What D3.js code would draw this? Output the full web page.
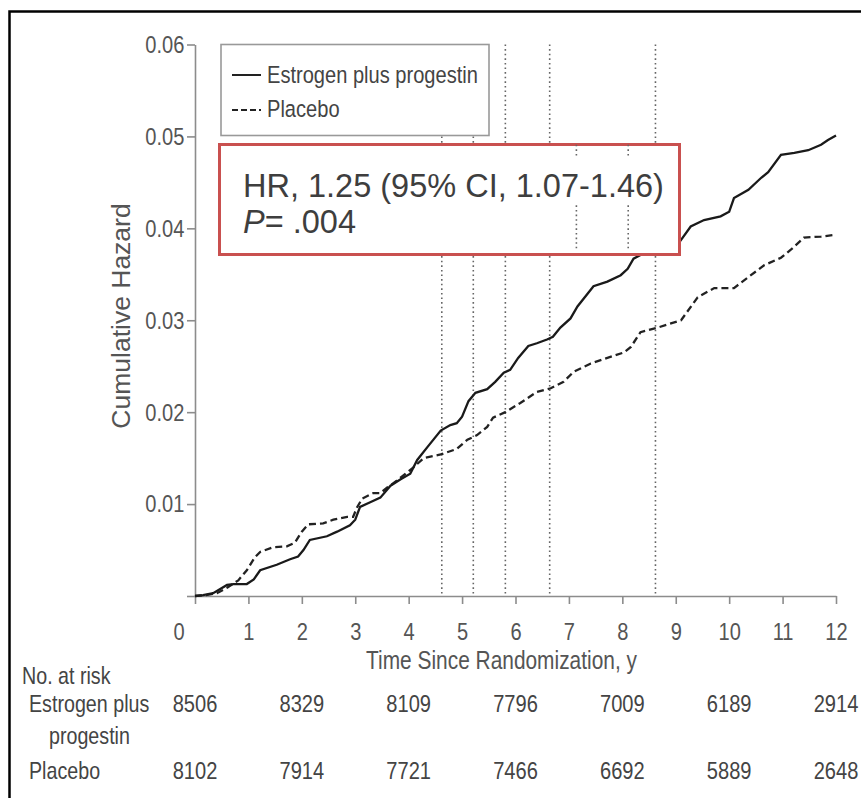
<!DOCTYPE html>
<html>
<head>
<meta charset="utf-8">
<script src="https://cdn.jsdelivr.net/npm/d3@7"></script>
<style>
  body { margin: 0; background: #fff; }
  svg text { font-family: "Liberation Sans", Arial, sans-serif; }
</style>
</head>
<body>
<div id="chart"></div>
<script>
// Cumulative hazard (time in years)
var epTime = [0, 0.15, 0.34, 0.6, 0.72, 0.97, 1.1, 1.22, 1.53, 1.78, 1.93, 2.03, 2.15, 2.47, 2.66, 2.9, 3.0, 3.09,
    3.28, 3.47, 3.66, 3.85, 4.03, 4.16, 4.35, 4.6, 4.78, 4.9, 5.0, 5.12, 5.25, 5.47, 5.62, 5.78, 5.9, 6.05, 6.24,
    6.4, 6.59, 6.7, 6.84, 7.03, 7.16, 7.46, 7.72, 7.97, 8.1, 8.21, 8.34, 8.6, 8.85, 9.07, 9.28, 9.53, 9.84, 10.0,
    10.09, 10.36, 10.6, 10.73, 10.97, 11.22, 11.48, 11.72, 11.85, 12.0];
var epHazard = [0, 0.0001, 0.0003, 0.0012, 0.0013, 0.0013, 0.0018, 0.0028, 0.0034, 0.004, 0.0043, 0.005, 0.0061,
    0.0065, 0.007, 0.0077, 0.0083, 0.0097, 0.0102, 0.0107, 0.012, 0.0127, 0.0133, 0.0148, 0.0162, 0.018, 0.0186,
    0.0188, 0.0195, 0.0212, 0.0221, 0.0225, 0.0233, 0.0243, 0.0246, 0.0259, 0.0272, 0.0275, 0.0279, 0.0282, 0.0292,
    0.0302, 0.0315, 0.0337, 0.0342, 0.0349, 0.0356, 0.0367, 0.0371, 0.0377, 0.0381, 0.0385, 0.0402, 0.0409, 0.0413,
    0.0418, 0.0433, 0.0442, 0.0455, 0.0461, 0.048, 0.0482, 0.0485, 0.0491, 0.0496, 0.0501];
var plTime = [0, 0.2, 0.41, 0.6, 0.81, 0.97, 1.12, 1.22, 1.46, 1.72, 1.87, 2.0, 2.12, 2.4, 2.59, 2.85, 2.96, 3.03,
    3.13, 3.34, 3.47, 3.6, 3.79, 4.09, 4.28, 4.6, 4.9, 5.1, 5.28, 5.47, 5.58, 5.81, 6.09, 6.4, 6.66, 6.9, 7.09,
    7.41, 7.72, 8.03, 8.16, 8.34, 8.66, 9.1, 9.41, 9.72, 10.09, 10.36, 10.66, 10.97, 11.16, 11.4, 11.72, 12.0];
var plHazard = [0, 0.0001, 0.0003, 0.0009, 0.0017, 0.0028, 0.0042, 0.0048, 0.0053, 0.0054, 0.0058, 0.007, 0.0078,
    0.0079, 0.0083, 0.0086, 0.0086, 0.0096, 0.0106, 0.0112, 0.0112, 0.0118, 0.0126, 0.014, 0.015, 0.0154, 0.016,
    0.017, 0.0175, 0.0184, 0.0194, 0.02, 0.021, 0.0222, 0.0226, 0.0233, 0.0244, 0.0253, 0.0259, 0.0265, 0.0271,
    0.0287, 0.0292, 0.03, 0.0325, 0.0335, 0.0335, 0.0347, 0.036, 0.0368, 0.0377, 0.039, 0.0391, 0.0393];

var xTicks = [0, 1, 2, 3, 4, 5, 6, 7, 8, 9, 10, 11, 12];
var yTicks = [0, 0.01, 0.02, 0.03, 0.04, 0.05, 0.06];

// numbers at risk
var riskYears = [0, 2, 4, 6, 8, 10, 12];
var riskEP = [8506, 8329, 8109, 7796, 7009, 6189, 2914];
var riskPL = [8102, 7914, 7721, 7466, 6692, 5889, 2648];

// dotted reference lines (years)
var markerYears = [4.62, 5.21, 5.81, 6.64, 8.62];
var boxMarkerYears = [7.14, 8.11];

var width = 861, height = 798;
var narrow = 0.82; // squeeze to mimic the condensed face

var x = d3.scaleLinear().domain([0, 12]).range([195, 836]);
var y = d3.scaleLinear().domain([0, 0.06]).range([596, 44.5]);

var svg = d3.select("#chart").append("svg")
    .attr("width", width)
    .attr("height", height)
    .style("display", "block");

svg.append("rect").attr("width", width).attr("height", height).attr("fill", "#fff");

// frame of the figure (only top and left edges are visible)
svg.append("rect")
    .attr("x", 9.5).attr("y", 11.5)
    .attr("width", 950).attr("height", 900)
    .attr("fill", "none")
    .attr("stroke", "#000")
    .attr("stroke-width", 2.5);

function condText(g, px, py, str, size, anchor, k) {
    return g.append("text")
        .attr("transform", "translate(" + px + "," + py + ") scale(" + (k || narrow) + ",1)")
        .attr("text-anchor", anchor || "start")
        .style("font-size", size + "px")
        .text(str);
}

// dotted vertical lines
svg.append("g").selectAll("line")
    .data(markerYears).enter()
    .append("line")
    .attr("x1", function (d) { return x(d); })
    .attr("x2", function (d) { return x(d); })
    .attr("y1", y(0.06))
    .attr("y2", y(0))
    .attr("stroke", "#666")
    .attr("stroke-width", 1.6)
    .attr("stroke-dasharray", "1.6,3");

// axes
var yAxis = svg.append("g")
    .attr("transform", "translate(" + x(0) + ",0)")
    .call(d3.axisLeft(y).tickValues(yTicks).tickSize(8).tickSizeOuter(0).tickPadding(5)
        .tickFormat(function (d) { return d === 0 ? "" : d3.format(".2f")(d); }));

var xAxis = svg.append("g")
    .attr("transform", "translate(0," + y(0) + ")")
    .call(d3.axisBottom(x).tickValues(xTicks).tickSize(8).tickSizeOuter(0).tickPadding(19)
        .tickFormat(d3.format("d")));

[yAxis, xAxis].forEach(function (ax) {
    ax.select(".domain").attr("stroke", "#8c8c8c").attr("stroke-width", 1.6);
    ax.selectAll(".tick line").attr("stroke", "#8c8c8c").attr("stroke-width", 1.6);
    ax.selectAll(".tick text")
        .attr("fill", "#555")
        .style("font-size", "24.5px")
        .style("font-family", "'Liberation Sans', Arial, sans-serif");
});
yAxis.selectAll(".tick text").attr("transform", "scale(" + narrow + ",1)");
xAxis.selectAll(".tick text")
    .attr("transform", "scale(" + narrow + ",1)")
    .attr("x", function (d) { return d === 0 ? -20 : 0; });

// axis titles
condText(svg, (x(0) + x(12)) / 2 - 14, 669, "Time Since Randomization, y", 25.5, "middle").attr("fill", "#555");
svg.append("text")
    .attr("transform", "translate(130,316) rotate(-90)")
    .attr("text-anchor", "middle")
    .attr("fill", "#555")
    .style("font-size", "26.5px")
    .text("Cumulative Hazard");

// curves
var line = d3.line()
    .x(function (d) { return x(d[0]); })
    .y(function (d) { return y(d[1]); });

svg.append("path")
    .datum(plTime.map(function (t, i) { return [t, plHazard[i]]; }))
    .attr("d", line)
    .attr("fill", "none")
    .attr("stroke", "#222")
    .attr("stroke-width", 2.3)
    .attr("stroke-dasharray", "7,4");

svg.append("path")
    .datum(epTime.map(function (t, i) { return [t, epHazard[i]]; }))
    .attr("d", line)
    .attr("fill", "none")
    .attr("stroke", "#1a1a1a")
    .attr("stroke-width", 2.3);

// legend
var legend = svg.append("g");
legend.append("rect")
    .attr("x", 221).attr("y", 44.5)
    .attr("width", 268).attr("height", 91)
    .attr("fill", "#fff")
    .attr("stroke", "#999")
    .attr("stroke-width", 1.6);
legend.append("line")
    .attr("x1", 232).attr("x2", 261).attr("y1", 75).attr("y2", 75)
    .attr("stroke", "#222").attr("stroke-width", 2);
legend.append("line")
    .attr("x1", 232).attr("x2", 261).attr("y1", 110).attr("y2", 110)
    .attr("stroke", "#222").attr("stroke-width", 2).attr("stroke-dasharray", "6,3");
condText(legend, 267, 83, "Estrogen plus progestin", 24.5).attr("fill", "#444");
condText(legend, 267, 117, "Placebo", 24.5).attr("fill", "#444");

// hazard ratio box
var hr = svg.append("g");
hr.append("rect")
    .attr("x", 219.5).attr("y", 144.5)
    .attr("width", 460).attr("height", 110)
    .attr("fill", "#fff")
    .attr("stroke", "#c9504f")
    .attr("stroke-width", 3);
boxMarkerYears.forEach(function (d) {
    [[0.0491, 0.0478], [0.0425, 0.0375]].forEach(function (seg) {
        hr.append("line")
            .attr("x1", x(d)).attr("x2", x(d))
            .attr("y1", y(seg[0])).attr("y2", y(seg[1]))
            .attr("stroke", "#666")
            .attr("stroke-width", 1.6)
            .attr("stroke-dasharray", "1.6,3");
    });
});
hr.append("text")
    .attr("x", 243).attr("y", 197)
    .attr("fill", "#3e3e3e")
    .style("font-size", "32.5px")
    .text("HR, 1.25 (95% CI, 1.07-1.46)");
var pText = hr.append("text")
    .attr("x", 243).attr("y", 233)
    .attr("fill", "#3e3e3e")
    .style("font-size", "32.5px");
pText.append("tspan").style("font-style", "italic").text("P");
pText.append("tspan").text("= .004");

// numbers at risk table
var table = svg.append("g").attr("fill", "#444");
condText(table, 22, 684, "No. at risk", 24);
condText(table, 29, 712, "Estrogen plus", 24);
condText(table, 49, 744, "progestin", 24);
condText(table, 29, 779, "Placebo", 24);
riskYears.forEach(function (yr, i) {
    condText(table, x(yr), 712, riskEP[i], 24.5, "middle");
    condText(table, x(yr), 779, riskPL[i], 24.5, "middle");
});
</script>
</body>
</html>
